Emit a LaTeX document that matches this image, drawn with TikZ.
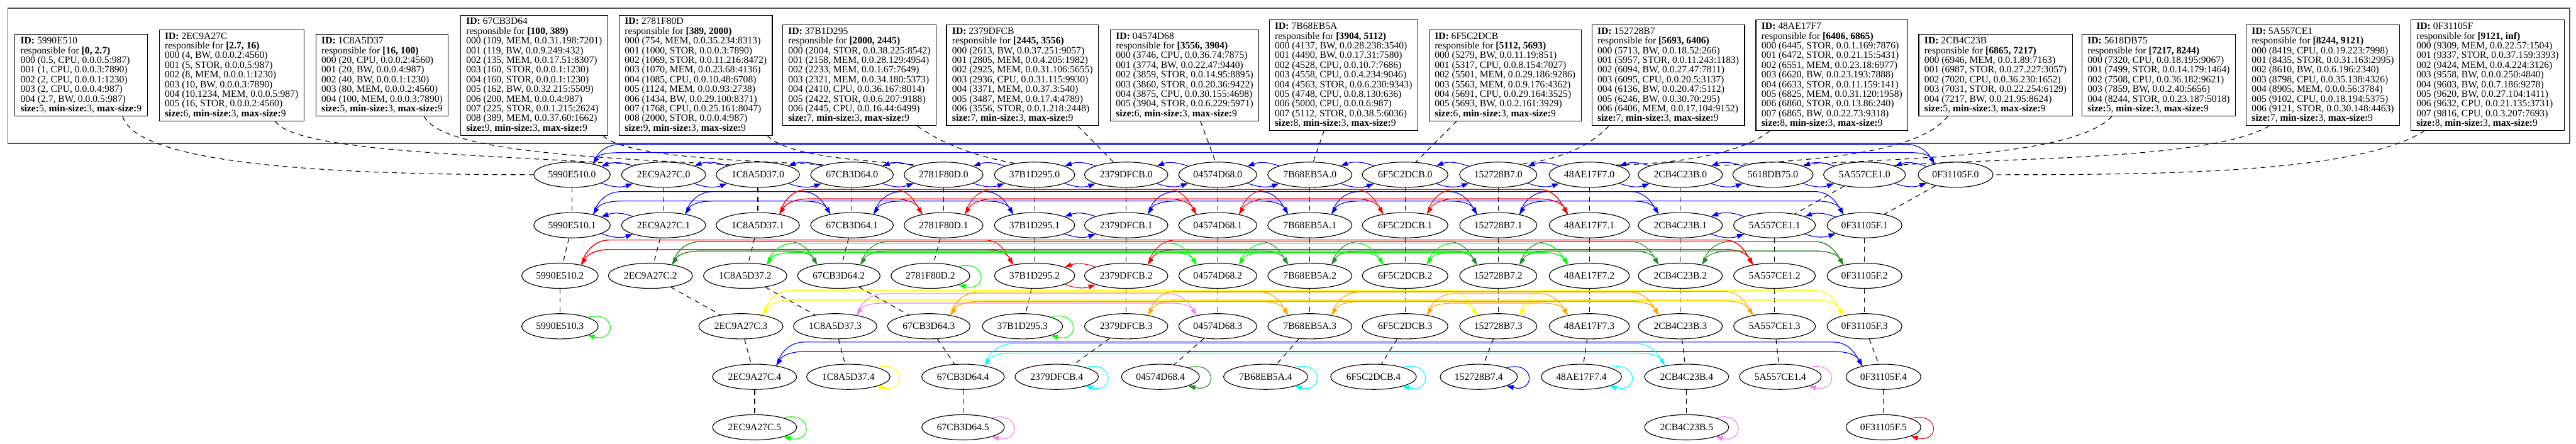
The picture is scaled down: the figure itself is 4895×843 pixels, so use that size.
\documentclass[tikz,border=0pt]{standalone}
\usepackage{fontspec}
\setmainfont{Liberation Serif}
\usetikzlibrary{calc,arrows.meta,shapes.geometric}
\definecolor{fgreen}{HTML}{228B22}
\definecolor{lime}{HTML}{00FF00}
\definecolor{gvyellow}{HTML}{FFFF00}
\definecolor{gvorange}{HTML}{FFA500}
\definecolor{gvviolet}{HTML}{EE82EE}
\definecolor{gvcyan}{HTML}{00FFFF}
\definecolor{gvblue}{HTML}{0000FF}
\definecolor{gvred}{HTML}{FF0000}
\definecolor{clustergray}{HTML}{555555}
\tikzset{
 infobox/.style={draw=black, line width=1pt, fill=white, align=left, font=\fontsize{14pt}{13.8pt}\selectfont, inner xsep=8pt, inner ysep=4pt},
 lvl/.style={draw=black, line width=1pt, ellipse, minimum height=36pt, inner xsep=4.5pt, inner ysep=2pt, font=\fontsize{14pt}{16pt}\selectfont},
 arr/.style={line width=1pt, -{Triangle[length=10pt,width=7pt]}},
 dlink/.style={line width=1pt, dash pattern=on 7pt off 6pt},
}
\newcommand\szl[1]{\textbf{size:}#1, \textbf{min-size:}3, \textbf{max-size:}9}
\newcommand\adjL[3]{\draw[#1,arr] (#3.164) to[out=160,in=20] (#2.16);}
\newcommand\adjR[3]{\draw[#1,arr] (#2.-16) to[out=-20,in=200] (#3.196);}
\newcommand\arcR[4]{\draw[#1,arr] (#2.27) to[out=75,in=180] ($(#2)+(95,#4)$) -- ($(#3)+(-95,#4)$) to[out=0,in=120] (#3.153);}
\newcommand\arcL[4]{\draw[#1,arr] (#3.153) to[out=105,in=0] ($(#3)+(-95,#4)$) -- ($(#2)+(95,#4)$) to[out=180,in=60] (#2.27);}
\newcommand\sloop[2]{\draw[#1,arr] (#2.18) .. controls +(55,14) and +(55,-14) .. (#2.-18);}
\begin{document}
\begin{tikzpicture}[x=0.75pt,y=0.75pt]
\useasboundingbox (0,0) rectangle (4895,-843);
\draw[clustergray, line width=1.6pt] (15,-16) rectangle (4883,-272);
% ---------------- info boxes
\node[infobox] (ba) at (154,-143) {\textbf{ID:} 5990E510\\responsible for \textbf{[0, 2.7)}\\000 (0.5, CPU, 0.0.0.5:987)\\001 (1, CPU, 0.0.0.3:7890)\\002 (2, CPU, 0.0.0.1:1230)\\003 (2, CPU, 0.0.0.4:987)\\004 (2.7, BW, 0.0.0.5:987)\\\szl{5}};
\node[infobox] (bb) at (440,-143) {\textbf{ID:} 2EC9A27C\\responsible for \textbf{[2.7, 16)}\\000 (4, BW, 0.0.0.2:4560)\\001 (5, STOR, 0.0.0.5:987)\\002 (8, MEM, 0.0.0.1:1230)\\003 (10, BW, 0.0.0.3:7890)\\004 (10.1234, MEM, 0.0.0.5:987)\\005 (16, STOR, 0.0.0.2:4560)\\\szl{6}};
\node[infobox] (bc) at (726,-143) {\textbf{ID:} 1C8A5D37\\responsible for \textbf{[16, 100)}\\000 (20, CPU, 0.0.0.2:4560)\\001 (20, BW, 0.0.0.4:987)\\002 (40, BW, 0.0.0.1:1230)\\003 (80, MEM, 0.0.0.2:4560)\\004 (100, MEM, 0.0.0.3:7890)\\\szl{5}};
\node[infobox] (bd) at (1015,-143) {\textbf{ID:} 67CB3D64\\responsible for \textbf{[100, 389)}\\000 (109, MEM, 0.0.31.198:7201)\\001 (119, BW, 0.0.9.249:432)\\002 (135, MEM, 0.0.17.51:8307)\\003 (160, STOR, 0.0.0.1:1230)\\004 (160, STOR, 0.0.0.1:1230)\\005 (162, BW, 0.0.32.215:5509)\\006 (200, MEM, 0.0.0.4:987)\\007 (225, STOR, 0.0.1.215:2624)\\008 (389, MEM, 0.0.37.60:1662)\\\szl{9}};
\node[infobox] (be) at (1322,-143) {\textbf{ID:} 2781F80D\\responsible for \textbf{[389, 2000)}\\000 (754, MEM, 0.0.35.234:8313)\\001 (1000, STOR, 0.0.0.3:7890)\\002 (1069, STOR, 0.0.11.216:8472)\\003 (1070, MEM, 0.0.23.68:4136)\\004 (1085, CPU, 0.0.10.48:6708)\\005 (1124, MEM, 0.0.0.93:2738)\\006 (1434, BW, 0.0.29.100:8371)\\007 (1768, CPU, 0.0.25.161:8047)\\008 (2000, STOR, 0.0.0.4:987)\\\szl{9}};
\node[infobox] (bf) at (1633,-143) {\textbf{ID:} 37B1D295\\responsible for \textbf{[2000, 2445)}\\000 (2004, STOR, 0.0.38.225:8542)\\001 (2158, MEM, 0.0.28.129:4954)\\002 (2233, MEM, 0.0.1.67:7649)\\003 (2321, MEM, 0.0.34.180:5373)\\004 (2410, CPU, 0.0.36.167:8014)\\005 (2422, STOR, 0.0.6.207:9188)\\006 (2445, CPU, 0.0.16.44:6499)\\\szl{7}};
\node[infobox] (bg) at (1943,-143) {\textbf{ID:} 2379DFCB\\responsible for \textbf{[2445, 3556)}\\000 (2613, BW, 0.0.37.251:9057)\\001 (2805, MEM, 0.0.4.205:1982)\\002 (2925, MEM, 0.0.31.106:5655)\\003 (2936, CPU, 0.0.31.115:9930)\\004 (3371, MEM, 0.0.37.3:540)\\005 (3487, MEM, 0.0.17.4:4789)\\006 (3556, STOR, 0.0.1.218:2448)\\\szl{7}};
\node[infobox] (bh) at (2251,-143) {\textbf{ID:} 04574D68\\responsible for \textbf{[3556, 3904)}\\000 (3746, CPU, 0.0.36.74:7875)\\001 (3774, BW, 0.0.22.47:9440)\\002 (3859, STOR, 0.0.14.95:8895)\\003 (3860, STOR, 0.0.20.36:9422)\\004 (3875, CPU, 0.0.30.155:4698)\\005 (3904, STOR, 0.0.6.229:5971)\\\szl{6}};
\node[infobox] (bi) at (2553,-143) {\textbf{ID:} 7B68EB5A\\responsible for \textbf{[3904, 5112)}\\000 (4137, BW, 0.0.28.238:3540)\\001 (4490, BW, 0.0.17.31:7580)\\002 (4528, CPU, 0.0.10.7:7686)\\003 (4558, CPU, 0.0.4.234:9046)\\004 (4563, STOR, 0.0.6.230:9343)\\005 (4748, CPU, 0.0.8.130:636)\\006 (5000, CPU, 0.0.0.6:987)\\007 (5112, STOR, 0.0.38.5:6036)\\\szl{8}};
\node[infobox] (bj) at (2860,-143) {\textbf{ID:} 6F5C2DCB\\responsible for \textbf{[5112, 5693)}\\000 (5279, BW, 0.0.11.19:851)\\001 (5317, CPU, 0.0.8.154:7027)\\002 (5501, MEM, 0.0.29.186:9286)\\003 (5563, MEM, 0.0.9.176:4362)\\004 (5691, CPU, 0.0.29.164:3525)\\005 (5693, BW, 0.0.2.161:3929)\\\szl{6}};
\node[infobox] (bk) at (3170,-143) {\textbf{ID:} 152728B7\\responsible for \textbf{[5693, 6406)}\\000 (5713, BW, 0.0.18.52:266)\\001 (5957, STOR, 0.0.11.243:1183)\\002 (6094, BW, 0.0.27.47:7811)\\003 (6095, CPU, 0.0.20.5:3137)\\004 (6136, BW, 0.0.20.47:5112)\\005 (6246, BW, 0.0.30.70:295)\\006 (6406, MEM, 0.0.17.104:9152)\\\szl{7}};
\node[infobox] (bl) at (3481,-143) {\textbf{ID:} 48AE17F7\\responsible for \textbf{[6406, 6865)}\\000 (6445, STOR, 0.0.1.169:7876)\\001 (6472, STOR, 0.0.21.15:5431)\\002 (6551, MEM, 0.0.23.18:6977)\\003 (6620, BW, 0.0.23.193:7888)\\004 (6633, STOR, 0.0.11.159:141)\\005 (6825, MEM, 0.0.31.120:1958)\\006 (6860, STOR, 0.0.13.86:240)\\007 (6865, BW, 0.0.22.73:9318)\\\szl{8}};
\node[infobox] (bm) at (3792,-143) {\textbf{ID:} 2CB4C23B\\responsible for \textbf{[6865, 7217)}\\000 (6946, MEM, 0.0.1.89:7163)\\001 (6987, STOR, 0.0.27.227:3057)\\002 (7020, CPU, 0.0.36.230:1652)\\003 (7031, STOR, 0.0.22.254:6129)\\004 (7217, BW, 0.0.21.95:8624)\\\szl{5}};
\node[infobox] (bn) at (4102,-143) {\textbf{ID:} 5618DB75\\responsible for \textbf{[7217, 8244)}\\000 (7320, CPU, 0.0.18.195:9067)\\001 (7499, STOR, 0.0.14.179:1464)\\002 (7508, CPU, 0.0.36.182:9621)\\003 (7859, BW, 0.0.2.40:5656)\\004 (8244, STOR, 0.0.23.187:5018)\\\szl{5}};
\node[infobox] (bo) at (4414,-143) {\textbf{ID:} 5A557CE1\\responsible for \textbf{[8244, 9121)}\\000 (8419, CPU, 0.0.19.223:7998)\\001 (8435, STOR, 0.0.31.163:2995)\\002 (8610, BW, 0.0.6.196:2340)\\003 (8798, CPU, 0.0.35.138:4326)\\004 (8905, MEM, 0.0.0.56:3784)\\005 (9102, CPU, 0.0.18.194:5375)\\006 (9121, STOR, 0.0.30.148:4463)\\\szl{7}};
\node[infobox] (bp) at (4727,-143) {\textbf{ID:} 0F31105F\\responsible for \textbf{[9121, inf)}\\000 (9309, MEM, 0.0.22.57:1504)\\001 (9337, STOR, 0.0.37.159:3393)\\002 (9424, MEM, 0.0.4.224:3126)\\003 (9558, BW, 0.0.0.250:4840)\\004 (9603, BW, 0.0.7.186:9278)\\005 (9620, BW, 0.0.27.104:1411)\\006 (9632, CPU, 0.0.21.135:3731)\\007 (9816, CPU, 0.0.3.207:7693)\\\szl{8}};
% ---------------- level nodes
% row 0
\node[lvl] (a0) at (1087,-332) {5990E510.0};
\node[lvl] (b0) at (1261,-332) {2EC9A27C.0};
\node[lvl] (c0) at (1440,-332) {1C8A5D37.0};
\node[lvl] (d0) at (1619,-332) {67CB3D64.0};
\node[lvl] (e0) at (1793,-332) {2781F80D.0};
\node[lvl] (f0) at (1966,-332) {37B1D295.0};
\node[lvl] (g0) at (2140,-332) {2379DFCB.0};
\node[lvl] (h0) at (2314,-332) {04574D68.0};
\node[lvl] (i0) at (2489,-332) {7B68EB5A.0};
\node[lvl] (j0) at (2670,-332) {6F5C2DCB.0};
\node[lvl] (k0) at (2847,-332) {152728B7.0};
\node[lvl] (l0) at (3020,-332) {48AE17F7.0};
\node[lvl] (m0) at (3193,-332) {2CB4C23B.0};
\node[lvl] (n0) at (3369,-332) {5618DB75.0};
\node[lvl] (o0) at (3543,-332) {5A557CE1.0};
\node[lvl] (p0) at (3716,-332) {0F31105F.0};
% row 1
\node[lvl] (a1) at (1087,-428) {5990E510.1};
\node[lvl] (b1) at (1261,-428) {2EC9A27C.1};
\node[lvl] (c1) at (1440,-428) {1C8A5D37.1};
\node[lvl] (d1) at (1619,-428) {67CB3D64.1};
\node[lvl] (e1) at (1793,-428) {2781F80D.1};
\node[lvl] (f1) at (1966,-428) {37B1D295.1};
\node[lvl] (g1) at (2140,-428) {2379DFCB.1};
\node[lvl] (h1) at (2314,-428) {04574D68.1};
\node[lvl] (i1) at (2489,-428) {7B68EB5A.1};
\node[lvl] (j1) at (2670,-428) {6F5C2DCB.1};
\node[lvl] (k1) at (2847,-428) {152728B7.1};
\node[lvl] (l1) at (3020,-428) {48AE17F7.1};
\node[lvl] (m1) at (3193,-428) {2CB4C23B.1};
\node[lvl] (o1) at (3372,-428) {5A557CE1.1};
\node[lvl] (p1) at (3543,-428) {0F31105F.1};
% row 2
\node[lvl] (a2) at (1064,-524) {5990E510.2};
\node[lvl] (b2) at (1236,-524) {2EC9A27C.2};
\node[lvl] (c2) at (1416,-524) {1C8A5D37.2};
\node[lvl] (d2) at (1594,-524) {67CB3D64.2};
\node[lvl] (e2) at (1768,-524) {2781F80D.2};
\node[lvl] (f2) at (1966,-524) {37B1D295.2};
\node[lvl] (g2) at (2140,-524) {2379DFCB.2};
\node[lvl] (h2) at (2314,-524) {04574D68.2};
\node[lvl] (i2) at (2489,-524) {7B68EB5A.2};
\node[lvl] (j2) at (2670,-524) {6F5C2DCB.2};
\node[lvl] (k2) at (2847,-524) {152728B7.2};
\node[lvl] (l2) at (3020,-524) {48AE17F7.2};
\node[lvl] (m2) at (3193,-524) {2CB4C23B.2};
\node[lvl] (o2) at (3372,-524) {5A557CE1.2};
\node[lvl] (p2) at (3543,-524) {0F31105F.2};
% row 3
\node[lvl] (a3) at (1064,-620) {5990E510.3};
\node[lvl] (b3) at (1408,-620) {2EC9A27C.3};
\node[lvl] (c3) at (1587,-620) {1C8A5D37.3};
\node[lvl] (d3) at (1765,-620) {67CB3D64.3};
\node[lvl] (f3) at (1943,-620) {37B1D295.3};
\node[lvl] (g3) at (2140,-620) {2379DFCB.3};
\node[lvl] (h3) at (2314,-620) {04574D68.3};
\node[lvl] (i3) at (2489,-620) {7B68EB5A.3};
\node[lvl] (j3) at (2670,-620) {6F5C2DCB.3};
\node[lvl] (k3) at (2847,-620) {152728B7.3};
\node[lvl] (l3) at (3020,-620) {48AE17F7.3};
\node[lvl] (m3) at (3193,-620) {2CB4C23B.3};
\node[lvl] (o3) at (3372,-620) {5A557CE1.3};
\node[lvl] (p3) at (3543,-620) {0F31105F.3};
% row 4
\node[lvl] (b4) at (1434,-716) {2EC9A27C.4};
\node[lvl] (c4) at (1612,-716) {1C8A5D37.4};
\node[lvl] (d4) at (1830,-716) {67CB3D64.4};
\node[lvl] (g4) at (2008,-716) {2379DFCB.4};
\node[lvl] (h4) at (2205,-716) {04574D68.4};
\node[lvl] (i4) at (2405,-716) {7B68EB5A.4};
\node[lvl] (j4) at (2610,-716) {6F5C2DCB.4};
\node[lvl] (k4) at (2810,-716) {152728B7.4};
\node[lvl] (l4) at (3005,-716) {48AE17F7.4};
\node[lvl] (m4) at (3205,-716) {2CB4C23B.4};
\node[lvl] (o4) at (3383,-716) {5A557CE1.4};
\node[lvl] (p4) at (3579,-716) {0F31105F.4};
% row 5
\node[lvl] (b5) at (1434,-812) {2EC9A27C.5};
\node[lvl] (d5) at (1830,-812) {67CB3D64.5};
\node[lvl] (m5) at (3205,-812) {2CB4C23B.5};
\node[lvl] (p5) at (3579,-812) {0F31105F.5};
% ---------------- box to level-0 links
\draw[dlink] ($(ba.south)+(79,0)$) .. controls (260,-310) and (600,-332) .. (a0.west);
\draw[dlink] ($(bb.south)+(83,0)$) .. controls (560,-290) and (950,-295) .. (b0.160);
\draw[dlink] ($(bc.south)+(80,0)$) .. controls (840,-290) and (1150,-300) .. (c0.160);
\draw[dlink] ($(bd.south)+(131,0)$) .. controls (1190,-300) and (1420,-305) .. (d0.160);
\draw[dlink] ($(be.south)+(136,0)$) .. controls (1500,-300) and (1650,-305) .. (e0.160);
\draw[dlink] ($(bf.south)+(110,0)$) .. controls (1800,-280) and (1870,-300) .. (f0.150);
\draw[dlink] ($(bg.south)+(105,0)$) -- (g0.135);
\draw[dlink] ($(bh.south)+(30,0)$) -- (h0.100);
\draw[dlink] ($(bi.south)+(-37,0)$) -- (i0.75);
\draw[dlink] ($(bj.south)+(-92,0)$) -- (j0.50);
\draw[dlink] ($(bk.south)+(-113,0)$) .. controls (3010,-290) and (2940,-305) .. (k0.25);
\draw[dlink] ($(bl.south)+(-118,0)$) .. controls (3300,-300) and (3150,-312) .. (l0.20);
\draw[dlink] ($(bm.south)+(-91,0)$) .. controls (3640,-300) and (3400,-305) .. (m0.15);
\draw[dlink] ($(bn.south)+(-89,0)$) .. controls (3940,-300) and (3600,-300) .. (n0.20);
\draw[dlink] ($(bo.south)+(-102,0)$) .. controls (4200,-305) and (3800,-300) .. (o0.18);
\draw[dlink] ($(bp.south)+(-120,0)$) .. controls (4480,-330) and (4100,-332) .. (p0.east);
% ---------------- vertical level links
\foreach \n/\k in {a/3,b/5,c/4,d/5,e/2,f/3,g/4,h/4,i/4,j/4,k/4,l/4,m/5,o/4,p/5}{
  \pgfmathtruncatemacro\km{\k-1}
  \foreach \i in {0,...,\km}{
    \pgfmathtruncatemacro\j{\i+1}
    \draw[dlink] (\n\i) -- (\n\j);
  }
}
% ---------------- level 0
\foreach \x/\y in {a0/b0,b0/c0,c0/d0,d0/e0,e0/f0,f0/g0,g0/h0,h0/i0,i0/j0,j0/k0,k0/l0,l0/m0,m0/n0,n0/o0,o0/p0}{\adjL{gvblue}{\x}{\y}\adjR{gvblue}{\x}{\y}}
\arcR{gvblue}{a0}{p0}{58}\arcL{gvblue}{a0}{p0}{42}
% ---------------- level 1
\foreach \x/\y in {a1/b1,f1/g1,m1/o1,o1/p1}{\adjL{gvblue}{\x}{\y}\adjR{gvblue}{\x}{\y}}
\foreach \x/\y in {b1/d1,d1/f1,g1/i1,i1/k1,k1/m1,a1/p1}{\arcR{gvblue}{\x}{\y}{64}\arcL{gvblue}{\x}{\y}{46}}
\foreach \x/\y in {c1/e1,e1/h1,h1/j1,j1/l1,c1/l1}{\arcR{gvred}{\x}{\y}{68}\arcL{gvred}{\x}{\y}{50}}
% ---------------- level 2
\adjL{gvred}{f2}{g2}\adjR{gvred}{f2}{g2}
\foreach \x/\y in {a2/f2,g2/o2,a2/o2}{\arcR{gvred}{\x}{\y}{68}\arcL{gvred}{\x}{\y}{50}}
\foreach \x/\y in {b2/d2,d2/i2,i2/k2,k2/m2,m2/p2,b2/p2}{\arcR{fgreen}{\x}{\y}{65}\arcL{fgreen}{\x}{\y}{47}}
\foreach \x/\y in {c2/h2,h2/j2,j2/l2,c2/l2}{\arcR{lime}{\x}{\y}{62}\arcL{lime}{\x}{\y}{44}}
\sloop{lime}{e2}
% ---------------- level 3
\foreach \x/\y in {b3/k3,k3/p3,b3/p3}{\arcR{gvyellow}{\x}{\y}{68}\arcL{gvyellow}{\x}{\y}{50}}
\foreach \x/\y in {d3/i3,i3/m3,d3/m3}{\arcR{gvorange}{\x}{\y}{65}\arcL{gvorange}{\x}{\y}{47}}
\arcR{gvviolet}{c3}{h3}{62}\arcL{gvviolet}{c3}{h3}{44}
\arcR{gvorange}{j3}{l3}{62}\arcL{gvorange}{j3}{l3}{44}
\arcR{gvorange}{g3}{o3}{66}\arcL{gvorange}{g3}{o3}{48}
\sloop{lime}{a3}\sloop{lime}{f3}
% ---------------- level 4
\arcR{gvblue}{b4}{p4}{66}\arcL{gvblue}{b4}{p4}{48}
\arcR{gvcyan}{d4}{m4}{63}\arcL{gvcyan}{d4}{m4}{45}
\sloop{gvyellow}{c4}\sloop{gvcyan}{g4}\sloop{fgreen}{h4}\sloop{gvcyan}{i4}
\sloop{gvcyan}{j4}\sloop{gvblue}{k4}\sloop{gvcyan}{l4}\sloop{gvviolet}{o4}
% ---------------- level 5
\sloop{lime}{b5}\sloop{gvviolet}{d5}\sloop{gvviolet}{m5}\sloop{gvred}{p5}
\end{tikzpicture}
\end{document}
